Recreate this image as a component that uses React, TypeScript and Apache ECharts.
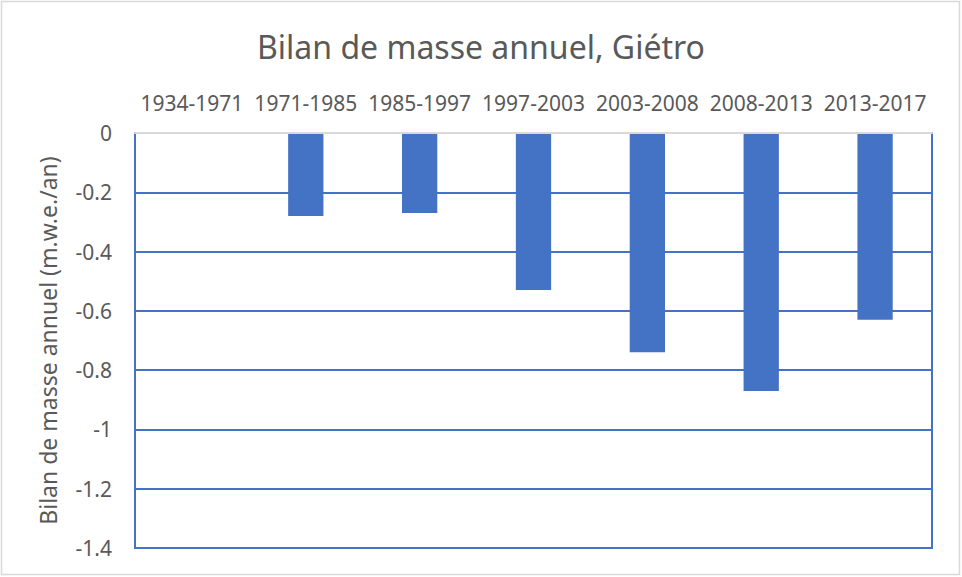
import React, { useEffect, useRef } from "react";
import * as echarts from "echarts";

const categories = ["1934-1971", "1971-1985", "1985-1997", "1997-2003", "2003-2008", "2008-2013", "2013-2017"];
const values: (number | null)[] = [null, -0.28, -0.27, -0.53, -0.74, -0.87, -0.63];

export default function App() {
  const ref = useRef<HTMLDivElement>(null);
  useEffect(() => {
    if (!ref.current) return;
    const chart = echarts.init(ref.current, null, { renderer: "svg" });
    const font = "Noto Sans";
    chart.setOption({
      animation: false,
      backgroundColor: "#ffffff",
      title: {
        text: "Bilan de masse annuel, Giétro",
        left: "center",
        top: 25,
        textStyle: { fontFamily: font, fontSize: 32, fontWeight: "normal", color: "#595959" },
      },
      graphic: [
        {
          type: "rect",
          shape: { x: 1.5, y: 1.5, width: 958, height: 573 },
          style: { fill: "none", stroke: "#d9d9d9", lineWidth: 1.5 },
          silent: true,
        },
      ],
      grid: {
        left: 135,
        right: 30,
        top: 133,
        bottom: 29,
        show: true,
        borderColor: "#4472C4",
        borderWidth: 2,
        containLabel: false,
      },
      xAxis: {
        type: "category",
        position: "top",
        data: categories,
        axisLine: { show: true, lineStyle: { color: "#d9d9d9", width: 2 } },
        axisTick: { show: false },
        axisLabel: { fontFamily: font, fontSize: 21, color: "#595959", margin: 20, interval: 0 },
        z: 10,
      },
      yAxis: {
        type: "value",
        min: -1.4,
        max: 0,
        interval: 0.2,
        name: "Bilan de masse annuel (m.w.e./an)",
        nameLocation: "middle",
        nameRotate: 90,
        nameGap: 76,
        nameTextStyle: { fontFamily: font, fontSize: 23, color: "#595959" },
        axisLine: { show: false },
        axisTick: { show: false },
        axisLabel: {
          fontFamily: font,
          fontSize: 21,
          color: "#595959",
          margin: 23,
          formatter: (v: number) => String(Math.round(v * 10) / 10),
        },
        splitLine: { show: true, lineStyle: { color: "#4472C4", width: 2 } },
      },
      series: [
        {
          type: "bar",
          data: values,
          barWidth: "31%",
          itemStyle: { color: "#4472C4" },
        },
      ],
    });
    return () => chart.dispose();
  }, []);
  return (
    <div style={{ position: "fixed", left: 0, top: 0, width: 962, height: 577 }}>
      <div ref={ref} style={{ width: 962, height: 577 }} />
    </div>
  );
}
